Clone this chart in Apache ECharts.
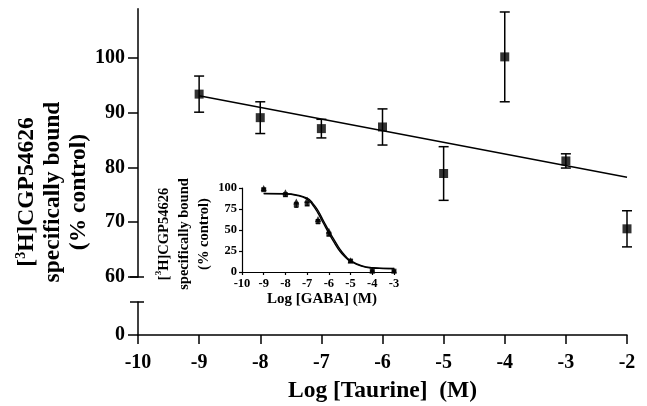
<!DOCTYPE html>
<html>
<head>
<meta charset="utf-8">
<script src="https://cdn.jsdelivr.net/npm/echarts@6/dist/echarts.min.js"></script>
<style>
  html, body { margin: 0; padding: 0; background: #fff; }
  #main { width: 647px; height: 406px; }
</style>
</head>
<body>
<div id="main"></div>
<script>
// 主图数据：Log [Taurine]
const taurineX = [-9, -8, -7, -6, -5, -4, -3, -2];
const taurineY = [93.4, 89.1, 87.1, 87.4, 78.9, 100.2, 81.2, 68.8];
const taurineErr = [3.3, 2.9, 1.7, 3.3, 4.9, 8.2, 1.3, 3.3];
// 回归直线两端
const fitX = [-9, -2];
const fitY = [93.1, 78.2];
const mainXTicks = [-10, -9, -8, -7, -6, -5, -4, -3, -2];
const upperYTicks = [60, 70, 80, 90, 100];
const lowerYTicks = [0];

// 小图数据：Log [GABA]
const gabaX = [-9, -8, -7.5, -7, -6.5, -6, -5, -4, -3];
const gabaA = [100, 95, 84, 86, 63, 49, 14, 2, 2];
const gabaB = [98, 92, 80, 81, 60, 45, 13, 1, 1];
const gabaErr = [1.5, 2, 3, 2, 2.5, 2, 1.5, 1, 1];
const curveX = [-9, -8, -7.5, -7, -6.75, -6.5, -6.25, -6, -5.75, -5.5, -5.25, -5, -4.5, -4, -3.5, -3];
const curveA = [93.3, 93, 91.3, 86.6, 80, 70, 58, 46, 35, 25, 18, 12.6, 7, 4.7, 4.2, 4];
const curveB = [93.5, 93.2, 91.8, 87.8, 82, 73, 61, 49, 38, 27.5, 19.5, 13.5, 7.5, 5, 4.3, 4.1];
const insetXTicks = [-10, -9, -8, -7, -6, -5, -4, -3];
const insetYTicks = [0, 25, 50, 75, 100];

const FONT = "'Liberation Serif', 'Times New Roman', serif";

function zip(xs, ys, es) {
  return xs.map((x, i) => es ? [x, ys[i], es[i]] : [x, ys[i]]);
}

function errorBars(cap, width) {
  return function (params, api) {
    const x = api.value(0), y = api.value(1), e = api.value(2);
    const top = api.coord([x, y + e]);
    const bot = api.coord([x, y - e]);
    const st = { stroke: '#000', lineWidth: width };
    return {
      type: 'group',
      children: [
        { type: 'line', shape: { x1: top[0], y1: top[1], x2: bot[0], y2: bot[1] }, style: st },
        { type: 'line', shape: { x1: top[0] - cap, y1: top[1], x2: top[0] + cap, y2: top[1] }, style: st },
        { type: 'line', shape: { x1: bot[0] - cap, y1: bot[1], x2: bot[0] + cap, y2: bot[1] }, style: st }
      ]
    };
  };
}

// 断轴两端的短横线
function axisCap(params, api) {
  const p = api.coord([api.value(0), api.value(1)]);
  return {
    type: 'line',
    shape: { x1: p[0] - 8, y1: p[1], x2: p[0] + 6, y2: p[1] },
    style: { stroke: '#000', lineWidth: 1.5 }
  };
}

const axisLineMain = { show: true, lineStyle: { color: '#000', width: 1.5 } };
const axisLineInset = { show: true, lineStyle: { color: '#000', width: 1.2 } };

const myChart = echarts.init(document.getElementById('main'));
myChart.setOption({
  animation: false,
  backgroundColor: '#fff',
  grid: [
    { left: 138, right: 20, top: 8.7, bottom: 129, outerBoundsMode: 'none' },
    { left: 138, right: 20, top: 302, bottom: 71, outerBoundsMode: 'none' },
    { left: 242, right: 253, top: 188, bottom: 134, outerBoundsMode: 'none' }
  ],
  xAxis: [
    { gridIndex: 0, type: 'value', min: -10, max: -2, show: false },
    {
      gridIndex: 1, type: 'value', min: -10, max: -2, interval: 1,
      axisLine: axisLineMain,
      axisTick: { show: true, length: 9, lineStyle: { color: '#000', width: 1.5 } },
      splitLine: { show: false },
      axisLabel: { color: '#000', fontFamily: FONT, fontWeight: 'bold', fontSize: 20, margin: 18 },
      name: 'Log [Taurine]  (M)', nameLocation: 'middle', nameGap: 44,
      nameTextStyle: { color: '#000', fontFamily: FONT, fontWeight: 'bold', fontSize: 23.5 }
    },
    {
      gridIndex: 2, type: 'value', min: -10, max: -3, interval: 1,
      axisLine: axisLineInset,
      axisTick: { show: true, length: 3, lineStyle: { color: '#000', width: 1.2 } },
      splitLine: { show: false },
      axisLabel: { color: '#000', fontFamily: FONT, fontWeight: 'bold', fontSize: 12.5, margin: 5 },
      name: 'Log [GABA] (M)', nameLocation: 'middle', nameGap: 20, nameTextStyle: { color: '#000', fontFamily: FONT, fontWeight: 'bold', fontSize: 15, padding: [0, 0, 0, 8] }
    }
  ],
  yAxis: [
    {
      gridIndex: 0, type: 'value', min: 60, max: 109, interval: 10,
      axisLine: axisLineMain,
      axisTick: { show: true, length: 10, customValues: upperYTicks, lineStyle: { color: '#000', width: 1.5 } },
      splitLine: { show: false },
      axisLabel: { customValues: upperYTicks, color: '#000', fontFamily: FONT, fontWeight: 'bold', fontSize: 20, margin: 13 }
    },
    {
      gridIndex: 1, type: 'value', min: 0, max: 6,
      axisLine: axisLineMain,
      axisTick: { show: true, length: 10, customValues: lowerYTicks, lineStyle: { color: '#000', width: 1.5 } },
      splitLine: { show: false },
      axisLabel: { customValues: lowerYTicks, color: '#000', fontFamily: FONT, fontWeight: 'bold', fontSize: 20, margin: 13 }
    },
    {
      gridIndex: 2, type: 'value', min: 0, max: 100, interval: 25,
      axisLine: axisLineInset,
      axisTick: { show: true, length: 3, lineStyle: { color: '#000', width: 1.2 } },
      splitLine: { show: false },
      axisLabel: { color: '#000', fontFamily: FONT, fontWeight: 'bold', fontSize: 12.5, margin: 5 }
    }
  ],
  graphic: [
    {
      type: 'text', x: 53, y: 192, rotation: Math.PI / 2,
      style: {
        text: '[{sup|3}H]CGP54626\nspecifically bound\n(% control)',
        fill: '#000', fontFamily: FONT, fontWeight: 'bold', fontSize: 23.5, lineHeight: 26,
        align: 'center', verticalAlign: 'middle',
        rich: { sup: { fontFamily: FONT, fontWeight: 'bold', fontSize: 14, verticalAlign: 'top', fill: '#000' } }
      }
    },
    {
      type: 'text', x: 184, y: 234, rotation: Math.PI / 2,
      style: {
        text: '[{sup|3}H]CGP54626\nspecifically bound\n(% control)',
        fill: '#000', fontFamily: FONT, fontWeight: 'bold', fontSize: 14.5, lineHeight: 20,
        align: 'center', verticalAlign: 'middle',
        rich: { sup: { fontFamily: FONT, fontWeight: 'bold', fontSize: 9, verticalAlign: 'top', fill: '#000' } }
      }
    }
  ],
  series: [
    // 主图
    {
      type: 'line', xAxisIndex: 0, yAxisIndex: 0, data: zip(fitX, fitY),
      symbol: 'none', lineStyle: { color: '#000', width: 1.5 }, z: 2
    },
    {
      type: 'custom', xAxisIndex: 0, yAxisIndex: 0, data: zip(taurineX, taurineY, taurineErr),
      renderItem: errorBars(5, 1.5), z: 3
    },
    {
      type: 'scatter', xAxisIndex: 0, yAxisIndex: 0, data: zip(taurineX, taurineY),
      symbol: 'rect', symbolSize: 9, itemStyle: { color: '#000' }, z: 4
    },
    { type: 'custom', xAxisIndex: 0, yAxisIndex: 0, data: [[-10, 60]], renderItem: axisCap, clip: false, silent: true },
    { type: 'custom', xAxisIndex: 1, yAxisIndex: 1, data: [[-10, 6]], renderItem: axisCap, clip: false, silent: true },
    // 小图
    {
      type: 'line', xAxisIndex: 2, yAxisIndex: 2, data: zip(curveX, curveA), smooth: true,
      symbol: 'none', lineStyle: { color: '#000', width: 1.4 }
    },
    {
      type: 'line', xAxisIndex: 2, yAxisIndex: 2, data: zip(curveX, curveB), smooth: true,
      symbol: 'none', lineStyle: { color: '#000', width: 1.4 }
    },
    {
      type: 'custom', xAxisIndex: 2, yAxisIndex: 2, data: zip(gabaX, gabaB, gabaErr),
      renderItem: errorBars(2, 1)
    },
    {
      type: 'scatter', xAxisIndex: 2, yAxisIndex: 2, data: zip(gabaX, gabaA),
      symbol: 'triangle', symbolSize: 6, itemStyle: { color: '#000' }
    },
    {
      type: 'scatter', xAxisIndex: 2, yAxisIndex: 2, data: zip(gabaX, gabaB),
      symbol: 'rect', symbolSize: 5, itemStyle: { color: '#000' }
    }
  ]
});
</script>
</body>
</html>
